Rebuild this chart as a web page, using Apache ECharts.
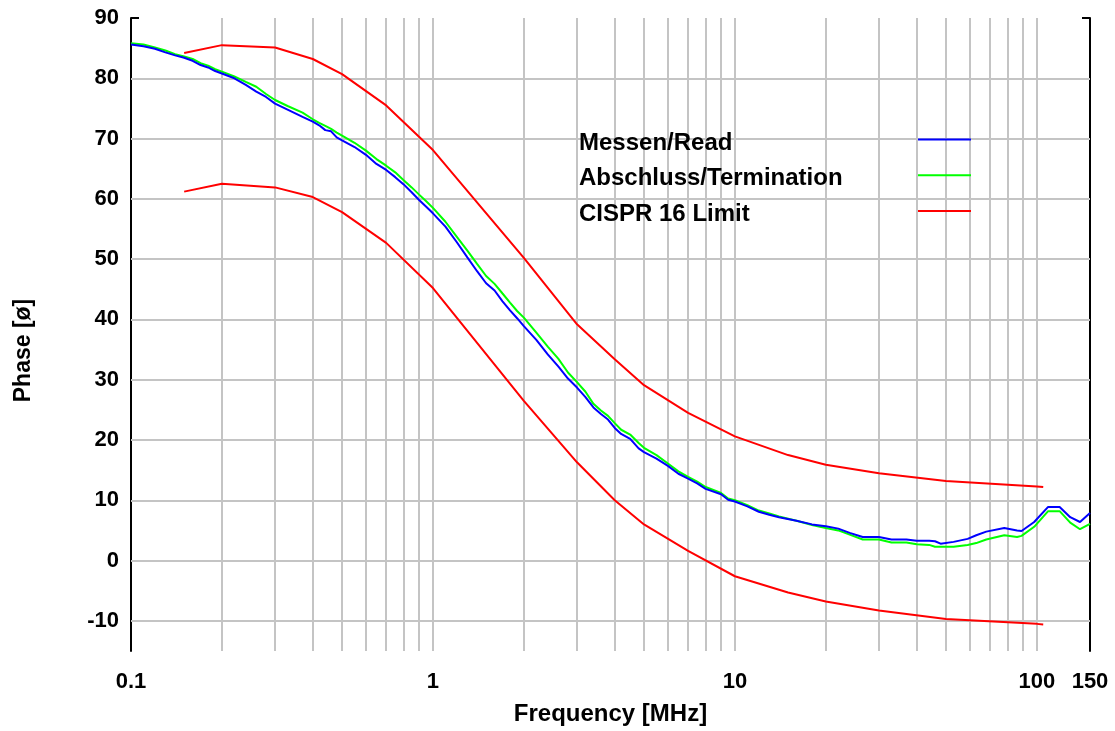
<!DOCTYPE html>
<html><head><meta charset="utf-8">
<script src="https://cdn.jsdelivr.net/npm/echarts@6/dist/echarts.min.js"></script>
<style>html,body{margin:0;padding:0;background:#fff}#c{width:1115px;height:731px}</style>
</head><body><div id="c"></div>
<script>
// Measured frequencies (MHz)
const freq = [0.10,0.11,0.12,0.13,0.14,0.15,0.16,0.17,0.18,0.19,0.20,0.22,0.24,0.26,0.28,0.30,0.33,0.37,0.40,0.42,0.44,0.46,0.48,0.50,0.55,0.60,0.65,0.70,0.75,0.80,0.85,0.90,0.95,1.00,1.10,1.20,1.30,1.40,1.50,1.60,1.70,1.80,1.90,2.00,2.20,2.40,2.60,2.80,3.00,3.20,3.40,3.60,3.80,4.00,4.20,4.50,4.80,5.00,5.50,6.00,6.50,7.00,7.50,8.00,9.00,9.50,10.0,11.0,12.0,13.0,14.0,16.0,18.0,20.0,22.0,24.0,26.5,30.0,33.0,37.0,40.0,44.0,46.0,48.0,53.0,59.0,63.0,68.0,78.0,86.0,89.0,98.0,109,119,129,139,150];
// Messen/Read phase (deg)
const readVals = [85.6,85.3,84.9,84.3,83.8,83.4,82.9,82.2,81.8,81.2,80.8,80.0,78.9,77.8,76.9,75.8,74.8,73.6,72.8,72.2,71.4,71.2,70.2,69.7,68.6,67.3,65.8,64.8,63.6,62.4,61.1,59.8,58.7,57.6,55.4,52.8,50.3,48.0,46.0,44.8,43.0,41.5,40.2,38.9,36.6,34.2,32.2,30.2,28.7,27.1,25.4,24.3,23.4,22.0,21.0,20.2,18.6,18.0,16.9,15.7,14.4,13.6,12.8,11.9,11.0,10.1,9.8,9.0,8.1,7.6,7.2,6.6,6.0,5.7,5.3,4.6,3.9,3.9,3.5,3.5,3.3,3.3,3.2,2.8,3.1,3.6,4.2,4.8,5.4,5.0,4.9,6.4,8.9,8.9,7.2,6.4,7.9];
// Abschluss/Termination phase (deg)
const termVals = [85.8,85.6,85.1,84.6,84.0,83.6,83.2,82.5,82.1,81.5,81.1,80.3,79.4,78.6,77.4,76.4,75.4,74.3,73.2,72.6,72.1,71.6,71.0,70.5,69.3,68.0,66.6,65.5,64.4,63.1,61.9,60.7,59.6,58.5,56.2,53.7,51.4,49.2,47.2,45.9,44.3,42.8,41.4,40.3,37.8,35.5,33.5,31.2,29.6,28.0,26.0,24.9,24.0,22.8,21.7,20.9,19.5,18.7,17.5,16.1,14.8,13.9,13.1,12.2,11.2,10.3,10.0,9.2,8.3,7.8,7.3,6.6,5.9,5.4,5.0,4.3,3.5,3.5,3.0,3.0,2.7,2.6,2.3,2.3,2.3,2.6,2.9,3.5,4.2,3.9,4.1,5.6,8.2,8.2,6.3,5.2,6.1];
// CISPR 16 limit
const limitFreq = [0.15,0.2,0.3,0.4,0.5,0.7,1,2,3,4,5,7,10,15,20,30,50,100,105];
const limitUpper = [84.2,85.5,85.1,83.2,80.7,75.5,68.1,50.2,39.2,33.4,29.1,24.5,20.6,17.5,15.9,14.5,13.2,12.3,12.2];
const limitLower = [61.2,62.5,61.9,60.3,57.8,52.7,45.2,26.5,16.3,10.0,6.0,1.6,-2.6,-5.3,-6.8,-8.3,-9.7,-10.5,-10.6];
// Axis ticks
const xLabelValues = [0.1,1,10,100,150];
const xGridValues = [0.2,0.3,0.4,0.5,0.6,0.7,0.8,0.9,1,2,3,4,5,6,7,8,9,10,20,30,40,50,60,70,80,90,100];
const yLabelValues = [-10,0,10,20,30,40,50,60,70,80,90];
const yGridValues = [-10,0,10,20,30,40,50,60,70,80];

const FONT = 'Liberation Sans, Arial, sans-serif';
const pair = (xs, ys) => xs.map((x, i) => [x, ys[i]]);
const gridColor = '#c4c4c4';

const xBase = {
  type: 'log', logBase: 10, min: 0.1, max: 150,
  axisLine: {show: true, lineStyle: {color: '#000', width: 2}},
  splitLine: {show: false},
  axisTick: {show: true, inside: true, length: 4, customValues: xGridValues, lineStyle: {color: '#000', width: 2}}
};
const yBase = {
  type: 'value', min: -15, max: 90,
  axisLine: {show: true, onZero: false, lineStyle: {color: '#000', width: 2}},
  splitLine: {show: false},
  axisTick: {show: true, inside: true, length: 8, customValues: yLabelValues, lineStyle: {color: '#000', width: 2}}
};

const chart = echarts.init(document.getElementById('c'));
chart.setOption({
  animation: false,
  backgroundColor: '#fff',
  grid: {left: 131, right: 25, top: 18, bottom: 78},
  xAxis: [
    Object.assign({}, xBase, {
      position: 'bottom',
      name: 'Frequency [MHz]', nameLocation: 'middle', nameGap: 51,
      nameTextStyle: {fontFamily: FONT, fontWeight: 'bold', fontSize: 24, color: '#000'},
      axisLabel: {show: true, customValues: xLabelValues, margin: 20, fontFamily: FONT, fontWeight: 'bold', fontSize: 22, color: '#000',
        formatter: v => String(v)}
    }),
    Object.assign({}, xBase, {position: 'top', axisLabel: {show: false}})
  ],
  yAxis: [
    Object.assign({}, yBase, {
      position: 'left',
      name: 'Phase [ø]', nameLocation: 'middle', nameGap: 96, nameRotate: 90,
      nameTextStyle: {fontFamily: FONT, fontWeight: 'bold', fontSize: 23, color: '#000', padding: [0, 32, 0, 0]},
      axisLabel: {show: true, customValues: yLabelValues, margin: 12, fontFamily: FONT, fontWeight: 'bold', fontSize: 22, color: '#000'}
    }),
    Object.assign({}, yBase, {position: 'right', axisLabel: {show: false}})
  ],
  legend: [
    {
      orient: 'vertical', left: 568, top: 126, itemGap: 11.5,
      itemWidth: 0, itemHeight: 0,
      itemStyle: {opacity: 0}, lineStyle: {opacity: 0},
      textStyle: {fontFamily: FONT, fontWeight: 'bold', fontSize: 24, lineHeight: 24, color: '#000'},
      data: ['Messen/Read', 'Abschluss/Termination', 'CISPR 16 Limit']
    },
    {
      orient: 'vertical', left: 912, top: 125, itemGap: 16.5,
      itemWidth: 53, itemHeight: 24,
      itemStyle: {opacity: 0},
      formatter: () => '',
      textStyle: {fontSize: 24, lineHeight: 24},
      data: ['Messen/Read', 'Abschluss/Termination', 'CISPR 16 Limit']
    }
  ],
  series: [
    {
      name: 'grid', type: 'line', data: [], z: 1, silent: true,
      markLine: {
        silent: true, z: 1, symbol: ['none', 'none'], label: {show: false},
        lineStyle: {color: gridColor, width: 2, type: 'solid'},
        emphasis: {disabled: true},
        data: xGridValues.map(v => ({xAxis: v})).concat(yGridValues.map(v => ({yAxis: v})))
      }
    },
    {name: 'CISPR 16 Limit', type: 'line', data: pair(limitFreq, limitUpper), symbol: 'none', z: 3,
      lineStyle: {color: '#ff0000', width: 2}, itemStyle: {color: '#ff0000'}},
    {name: 'CISPR 16 Limit', type: 'line', data: pair(limitFreq, limitLower), symbol: 'none', z: 3,
      lineStyle: {color: '#ff0000', width: 2}, itemStyle: {color: '#ff0000'}},
    {name: 'Abschluss/Termination', type: 'line', data: pair(freq, termVals), symbol: 'none', z: 4,
      lineStyle: {color: '#00ff00', width: 2}, itemStyle: {color: '#00ff00'}},
    {name: 'Messen/Read', type: 'line', data: pair(freq, readVals), symbol: 'none', z: 5,
      lineStyle: {color: '#0000ff', width: 2}, itemStyle: {color: '#0000ff'}}
  ]
});
</script></body></html>
